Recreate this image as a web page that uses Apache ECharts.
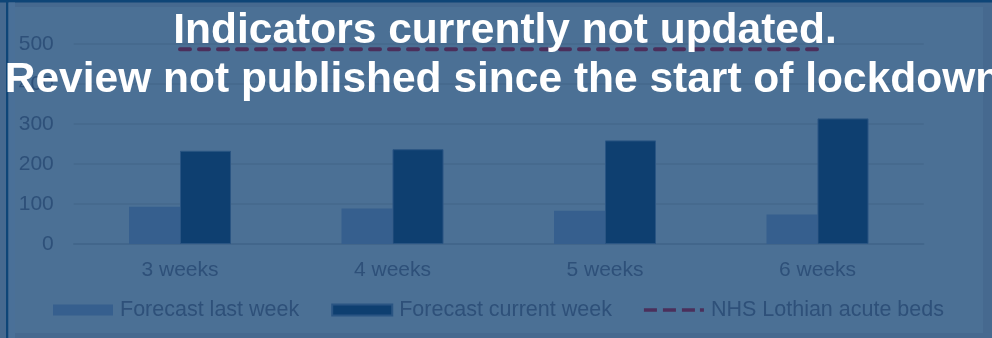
<!DOCTYPE html>
<html>
<head>
<meta charset="utf-8">
<style>
  html, body { margin: 0; padding: 0; background: #46698f; }
  #chart { width: 992px; height: 338px; }
</style>
<script src="https://cdn.jsdelivr.net/npm/echarts@6/dist/echarts.min.js"></script>
</head>
<body>
<div id="chart"></div>
<script>
// Forecast horizons and bed-demand forecasts
const categories = ['3 weeks', '4 weeks', '5 weeks', '6 weeks'];
const forecastLastWeek = [93, 89, 83, 74];
const forecastCurrentWeek = [233, 237, 259, 314];
const acuteBeds = [487, 487, 487, 487];
const seriesNames = ['Forecast last week', 'Forecast current week', 'NHS Lothian acute beds'];
const noticeLines = ['Indicators currently not updated.', 'Review not published since the start of lockdown'];

const FONT = '"Liberation Sans", Arial, sans-serif';
const TEXT_COLOR = '#2e5079';
const BEDS_COLOR = '#4b2f5b';

// dashed-line legend icon: three dashes and a short end dash
const dashIcon = 'path://M0,0h13v3.5h-13z M19,0h13v3.5h-13z M38,0h13v3.5h-13z M56,0h4v3.5h-4z';

const chart = echarts.init(document.getElementById('chart'), null, { renderer: 'canvas' });

chart.setOption({
  animation: false,
  backgroundColor: '#46698f',
  textStyle: { fontFamily: FONT },
  grid: { left: 73.75, right: 68.25, top: 44, bottom: 94, containLabel: false },
  xAxis: {
    type: 'category',
    data: categories,
    boundaryGap: true,
    axisLine: { show: true, lineStyle: { color: '#42668b', width: 1.5 } },
    axisTick: { show: false },
    axisLabel: { color: TEXT_COLOR, fontSize: 21, fontFamily: FONT, margin: 16 }
  },
  yAxis: {
    type: 'value',
    min: 0,
    max: 500,
    interval: 100,
    axisLine: { show: false },
    axisTick: { show: false },
    splitLine: { lineStyle: { color: '#44688d', width: 1.5 } },
    axisLabel: { color: TEXT_COLOR, fontSize: 21, fontFamily: FONT, margin: 20 }
  },
  legend: {
    left: 53,
    top: 299,
    padding: 0,
    itemWidth: 60,
    itemHeight: 11,
    itemGap: 32,
    textStyle: { color: TEXT_COLOR, fontSize: 21.5, fontFamily: FONT, padding: [0, 0, 0, 2] },
    data: [
      { name: seriesNames[0], icon: 'rect' },
      { name: seriesNames[1], icon: 'rect' },
      { name: seriesNames[2], icon: dashIcon, itemStyle: { color: BEDS_COLOR, borderWidth: 0 } }
    ]
  },
  series: [
    {
      name: seriesNames[0],
      type: 'bar',
      data: forecastLastWeek,
      barGap: '0%',
      barCategoryGap: '52%',
      itemStyle: { color: '#365f8e' }
    },
    {
      name: seriesNames[1],
      type: 'bar',
      data: forecastCurrentWeek,
      barGap: '0%',
      barCategoryGap: '52%',
      itemStyle: { color: '#0e3f70', borderColor: '#2a5583', borderWidth: 1 }
    },
    {
      name: seriesNames[2],
      type: 'line',
      data: acuteBeds,
      symbol: 'none',
      z: 3,
      itemStyle: { color: BEDS_COLOR },
      lineStyle: { color: BEDS_COLOR, width: 4, type: [10, 9], cap: 'round' }
    }
  ],
  graphic: [
    // outer frame and inner panel
    { type: 'rect', z: -10, silent: true, shape: { x: 0, y: 0, width: 992, height: 2.5 }, style: { fill: '#0e4577' } },
    { type: 'rect', z: -10, silent: true, shape: { x: 6, y: 0, width: 2.5, height: 338 }, style: { fill: '#0e4577' } },
    { type: 'rect', z: -10, silent: true, shape: { x: 8.5, y: 2.5, width: 6.5, height: 335.5 }, style: { fill: '#4a7098' } },
    { type: 'rect', z: -10, silent: true, shape: { x: 15, y: 7, width: 968, height: 326 }, style: { fill: '#4b7095' } },
    // notice text
    {
      type: 'text', z: 100, silent: true,
      style: { text: noticeLines[0], x: 505, y: 31, align: 'center', verticalAlign: 'middle',
               fill: '#ffffff', font: 'bold 42.5px ' + FONT }
    },
    {
      type: 'text', z: 100, silent: true,
      style: { text: noticeLines[1], x: 503, y: 80, align: 'center', verticalAlign: 'middle',
               fill: '#ffffff', font: 'bold 42.5px ' + FONT }
    }
  ]
});
</script>
</body>
</html>
